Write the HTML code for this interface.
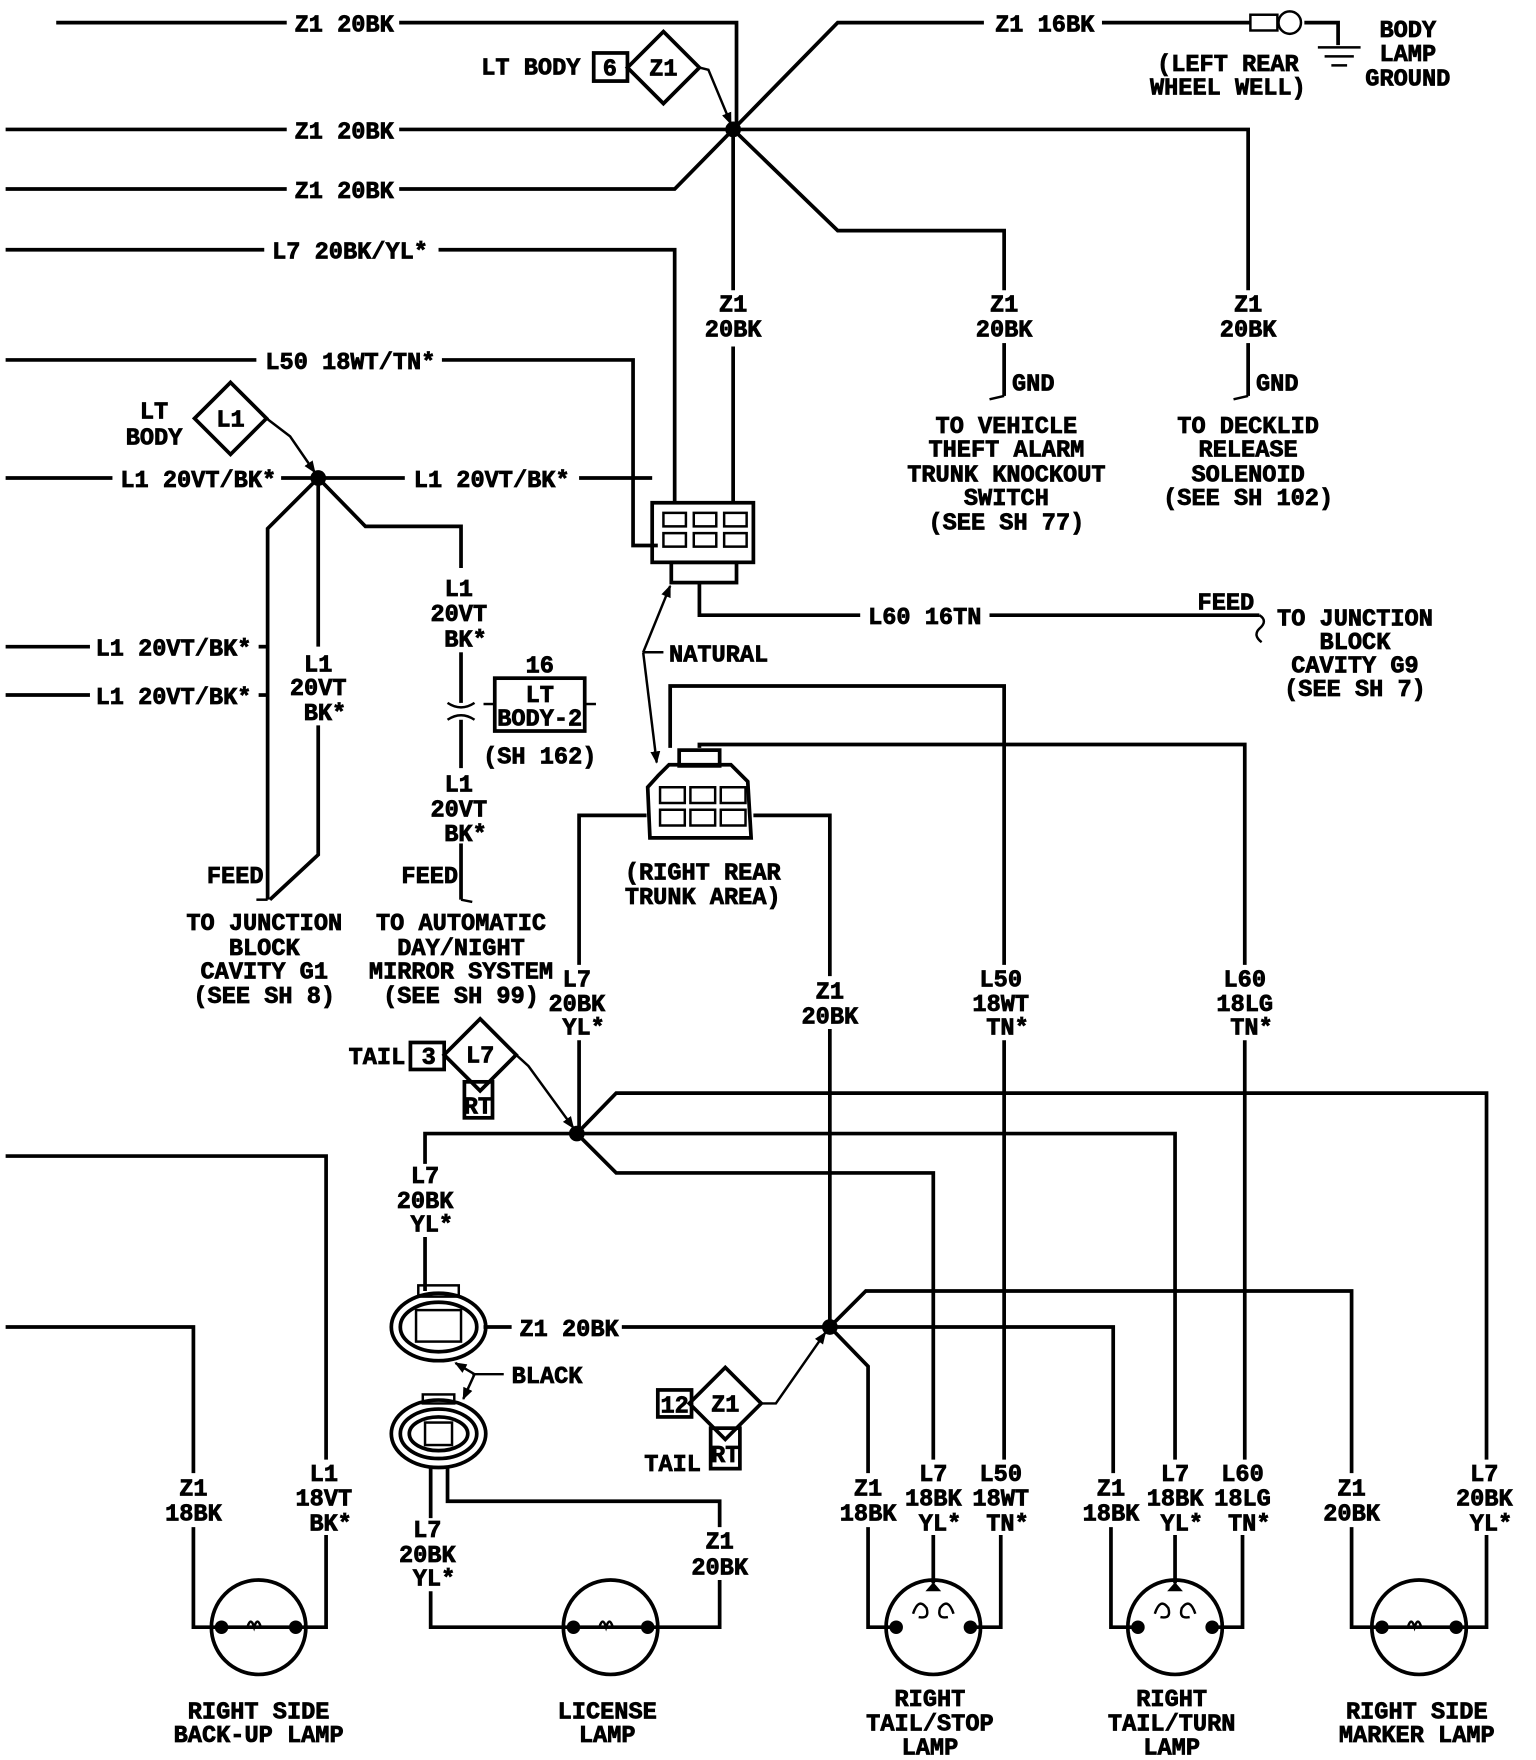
<!DOCTYPE html>
<html><head><meta charset="utf-8"><style>
html,body{margin:0;padding:0;background:#fff;}
svg{display:block;}
text{font-family:"Liberation Mono",monospace;font-weight:bold;font-size:21px;fill:#000;stroke:#000;stroke-width:0.7;}
.m{text-anchor:middle;}
.l{stroke:#000;stroke-width:3.3;fill:none;}
.t{stroke:#000;stroke-width:2.2;fill:none;}
</style></head><body>
<svg width="1536" height="1760" viewBox="0 0 1366 1565" xmlns="http://www.w3.org/2000/svg">
<defs><marker id="a" viewBox="0 0 10 10" refX="9" refY="5" markerWidth="5" markerHeight="5" orient="auto"><path d="M0,1 L10,5 L0,9 Z" fill="#000"/></marker></defs>
<rect width="1366" height="1565" fill="#fff"/>
<g class="l">
<polyline points="50,20 255,20"/><polyline points="355,20 655,20 655,115"/>
<polyline points="5,115 255,115"/><polyline points="355,115 1110,115 1110,258"/>
<polyline points="5,168 255,168"/><polyline points="355,168 600,168 652,115"/>
<polyline points="5,222 235,222"/><polyline points="390,222 600,222 600,447"/>
<polyline points="5,320 228,320"/><polyline points="393,320 563,320 563,485 585,485"/>
<polyline points="652,115 745,20 875,20"/><polyline points="980,20 1112,20"/>
<polyline points="1160,20 1190,20 1190,40"/>
<polyline points="652,115 745,205 893,205 893,258"/>
<polyline points="652,115 652,258"/><polyline points="652,308 652,447"/>
<polyline points="893,305 893,352"/><polyline points="1110,305 1110,352"/>
<polyline points="622,518 622,547 765,547"/><polyline points="880,547 1120,547"/>
<polyline points="5,425 100,425"/><polyline points="250,425 360,425"/><polyline points="515,425 580,425"/>
<polyline points="283,425 238,470 238,800"/>
<polyline points="5,575 80,575"/><polyline points="230,575 238,575"/>
<polyline points="5,618 80,618"/><polyline points="230,618 238,618"/>
<polyline points="283,425 283,575"/><polyline points="283,645 283,760 240,800"/>
<polyline points="283,425 325,468 410,468 410,505"/>
<polyline points="410,580 410,625"/><polyline points="410,640 410,683"/>
<polyline points="410,750 410,800"/>
<polyline points="596,665 596,610 893,610 893,858"/>
<polyline points="622,665 622,662 1107,662 1107,858"/>
<polyline points="575,725 515,725 515,858"/><polyline points="515,925 515,1008"/>
<polyline points="670,725 738,725 738,868"/><polyline points="738,915 738,1180"/>
<polyline points="893,925 893,1298"/><polyline points="1107,925 1107,1298"/>
<polyline points="513,1008 378,1008 378,1035"/><polyline points="378,1100 378,1148"/>
<polyline points="513,1008 548,972 1322,972 1322,1298"/>
<polyline points="513,1008 1045,1008 1045,1298"/>
<polyline points="513,1008 548,1043 830,1043 830,1298"/>
<polyline points="5,1028 290,1028 290,1298"/>
<polyline points="5,1180 172,1180 172,1310"/>
<polyline points="430,1180 455,1180"/><polyline points="553,1180 738,1180"/>
<polyline points="738,1180 770,1148 1202,1148 1202,1310"/>
<polyline points="738,1180 772,1215 772,1310"/>
<polyline points="738,1180 990,1180 990,1310"/>
<polyline points="383,1305 383,1350"/><polyline points="398,1305 398,1335 640,1335 640,1358"/>
<polyline points="172,1358 172,1447 197,1447"/><polyline points="290,1365 290,1447 263,1447"/>
<polyline points="383,1415 383,1447 510,1447"/><polyline points="640,1405 640,1447 576,1447"/>
<polyline points="772,1358 772,1447 797,1447"/><polyline points="830,1365 830,1408"/><polyline points="890,1365 890,1447 863,1447"/>
<polyline points="988,1358 988,1447 1012,1447"/><polyline points="1045,1365 1045,1408"/><polyline points="1105,1365 1105,1447 1078,1447"/>
<polyline points="1202,1358 1202,1447 1229,1447"/><polyline points="1322,1365 1322,1447 1295,1447"/>
<circle cx="230" cy="1447" r="42"/><circle cx="543" cy="1447" r="42"/><circle cx="830" cy="1447" r="42"/><circle cx="1045" cy="1447" r="42"/><circle cx="1262" cy="1447" r="42"/>
<line x1="197" y1="1447" x2="263" y2="1447"/><line x1="510" y1="1447" x2="576" y2="1447"/><line x1="1229" y1="1447" x2="1295" y2="1447"/>
<polygon points="590,28 622,60 590,92 558,60"/><rect x="528" y="47" width="30" height="25"/>
<polygon points="205,340 237,372 205,404 173,372"/>
<polygon points="427,906 459,938 427,970 395,938"/><rect x="365" y="927" width="30" height="24"/><rect x="413" y="962" width="25" height="32"/>
<polygon points="645,1216 677,1248 645,1280 613,1248"/><rect x="585" y="1236" width="30" height="24"/><rect x="632" y="1270" width="26" height="36"/>
<rect x="440" y="603" width="80" height="47"/>
<rect x="580" y="447" width="90" height="53"/><rect x="597" y="500" width="58" height="18"/>
<path d="M585,690 L595,680 L650,680 L665,695 L668,745 L578,745 L576,700 Z"/>
<rect x="604" y="667" width="36" height="14"/>
<ellipse cx="390" cy="1180" rx="42" ry="30"/><ellipse cx="390" cy="1180" rx="34" ry="22"/>
<ellipse cx="390" cy="1275" rx="42" ry="30"/><ellipse cx="390" cy="1275" rx="34" ry="22"/><ellipse cx="390" cy="1275" rx="26" ry="15"/>
</g>
<g class="t">
<polyline points="622,60 630,62 650,110" marker-end="url(#a)"/><polyline points="237,372 258,388 280,420" marker-end="url(#a)"/>
<polyline points="459,938 470,948 510,1003" marker-end="url(#a)"/><polyline points="677,1248 690,1248 734,1185" marker-end="url(#a)"/>
<polyline points="572,580 596,521" marker-end="url(#a)"/><polyline points="572,580 584,678" marker-end="url(#a)"/><line x1="572" y1="580" x2="590" y2="580"/>
<polyline points="422,1222 405,1212" marker-end="url(#a)"/><polyline points="422,1222 412,1244" marker-end="url(#a)"/><line x1="420" y1="1222" x2="448" y2="1222"/>
<polyline points="893,352 880,355"/><polyline points="1110,352 1097,355"/>
<polyline points="238,800 228,800"/><polyline points="410,800 420,802"/>
<path d="M1120,547 q8,5 0,12 q-6,6 2,12"/>
<path d="M398,625 q12,8 24,0 M398,640 q12,-8 24,0"/>
<line x1="430" y1="626" x2="440" y2="626"/><line x1="520" y1="626" x2="530" y2="626"/>
<line x1="1172" y1="42" x2="1210" y2="42"/><line x1="1178" y1="50" x2="1204" y2="50"/><line x1="1184" y1="58" x2="1198" y2="58"/>
<rect x="1112" y="13" width="24" height="14"/><circle cx="1147" cy="20" r="10"/>
<path d="M590,456h20v12h-20z M617,456h20v12h-20z M644,456h20v12h-20z M590,474h20v12h-20z M617,474h20v12h-20z M644,474h20v12h-20z"/>
<path d="M587,700h22v14h-22z M614,700h22v14h-22z M641,700h22v14h-22z M587,720h22v14h-22z M614,720h22v14h-22z M641,720h22v14h-22z"/>
<rect x="370" y="1165" width="40" height="28"/><rect x="378" y="1265" width="24" height="20"/>
<rect x="372" y="1143" width="36" height="10"/><rect x="376" y="1240" width="28" height="8"/>
<path d="M812,1435 q5,-15 12,-5 q3,10 -7,8 M848,1435 q-5,-15 -12,-5 q-3,10 7,8"/>
<path d="M1027,1435 q5,-15 12,-5 q3,10 -7,8 M1063,1435 q-5,-15 -12,-5 q-3,10 7,8"/>
<path d="M220,1447 q3,-10 6,0 q3,-10 6,0 M533,1447 q3,-10 6,0 q3,-10 6,0 M1252,1447 q3,-10 6,0 q3,-10 6,0"/>
</g>
<g fill="#000">
<circle cx="652" cy="115" r="7"/><circle cx="283" cy="425" r="7"/><circle cx="513" cy="1008" r="7"/><circle cx="738" cy="1180" r="7"/>
<circle cx="197" cy="1447" r="6"/><circle cx="263" cy="1447" r="6"/><circle cx="510" cy="1447" r="6"/><circle cx="576" cy="1447" r="6"/>
<circle cx="797" cy="1447" r="6"/><circle cx="863" cy="1447" r="6"/><circle cx="1012" cy="1447" r="6"/><circle cx="1078" cy="1447" r="6"/>
<circle cx="1229" cy="1447" r="6"/><circle cx="1295" cy="1447" r="6"/>
<path d="M823,1415h14l-7,-8z M1038,1415h14l-7,-8z"/>
</g>
<text x="262" y="28">Z1 20BK</text><text x="262" y="123">Z1 20BK</text><text x="262" y="176">Z1 20BK</text>
<text x="242" y="230">L7 20BK/YL*</text><text x="236" y="328">L50 18WT/TN*</text>
<text x="428" y="66">LT BODY</text><text x="536" y="67">6</text><text x="590" y="67" class="m">Z1</text>
<text x="885" y="28">Z1 16BK</text>
<text x="1092" y="63" class="m">(LEFT REAR</text><text x="1092" y="84" class="m">WHEEL WELL)</text>
<text x="1252" y="33" class="m">BODY</text><text x="1252" y="54" class="m">LAMP</text><text x="1252" y="76" class="m">GROUND</text>
<text x="652" y="277" class="m">Z1</text><text x="652" y="299" class="m">20BK</text>
<text x="893" y="277" class="m">Z1</text><text x="893" y="299" class="m">20BK</text>
<text x="1110" y="277" class="m">Z1</text><text x="1110" y="299" class="m">20BK</text>
<text x="900" y="347">GND</text><text x="1117" y="347">GND</text>
<text x="895" y="385" class="m">TO VEHICLE</text><text x="895" y="406" class="m">THEFT ALARM</text><text x="895" y="428" class="m">TRUNK KNOCKOUT</text><text x="895" y="449" class="m">SWITCH</text><text x="895" y="471" class="m">(SEE SH 77)</text>
<text x="1110" y="385" class="m">TO DECKLID</text><text x="1110" y="406" class="m">RELEASE</text><text x="1110" y="428" class="m">SOLENOID</text><text x="1110" y="449" class="m">(SEE SH 102)</text>
<text x="772" y="555">L60 16TN</text><text x="1065" y="542">FEED</text>
<text x="1205" y="556" class="m">TO JUNCTION</text><text x="1205" y="577" class="m">BLOCK</text><text x="1205" y="598" class="m">CAVITY G9</text><text x="1205" y="619" class="m">(SEE SH 7)</text>
<text x="595" y="588">NATURAL</text>
<text x="625" y="782" class="m">(RIGHT REAR</text><text x="625" y="804" class="m">TRUNK AREA)</text>
<text x="137" y="372" class="m">LT</text><text x="137" y="395" class="m">BODY</text><text x="205" y="379" class="m">L1</text>
<text x="107" y="433">L1 20VT/BK*</text><text x="368" y="433">L1 20VT/BK*</text>
<text x="85" y="583">L1 20VT/BK*</text><text x="85" y="626">L1 20VT/BK*</text>
<text x="283" y="597" class="m">L1</text><text x="283" y="618" class="m">20VT</text><text x="289" y="640" class="m">BK*</text>
<text x="408" y="530" class="m">L1</text><text x="408" y="552" class="m">20VT</text><text x="414" y="575" class="m">BK*</text>
<text x="408" y="704" class="m">L1</text><text x="408" y="726" class="m">20VT</text><text x="414" y="748" class="m">BK*</text>
<text x="480" y="598" class="m">16</text><text x="480" y="624" class="m">LT</text><text x="480" y="645" class="m">BODY-2</text><text x="480" y="679" class="m">(SH 162)</text>
<text x="184" y="785">FEED</text><text x="357" y="785">FEED</text>
<text x="235" y="827" class="m">TO JUNCTION</text><text x="235" y="849" class="m">BLOCK</text><text x="235" y="870" class="m">CAVITY G1</text><text x="235" y="892" class="m">(SEE SH 8)</text>
<text x="410" y="827" class="m">TO AUTOMATIC</text><text x="410" y="849" class="m">DAY/NIGHT</text><text x="410" y="870" class="m">MIRROR SYSTEM</text><text x="410" y="892" class="m">(SEE SH 99)</text>
<text x="513" y="877" class="m">L7</text><text x="513" y="899" class="m">20BK</text><text x="519" y="920" class="m">YL*</text>
<text x="738" y="888" class="m">Z1</text><text x="738" y="910" class="m">20BK</text>
<text x="890" y="877" class="m">L50</text><text x="890" y="899" class="m">18WT</text><text x="896" y="920" class="m">TN*</text>
<text x="1107" y="877" class="m">L60</text><text x="1107" y="899" class="m">18LG</text><text x="1113" y="920" class="m">TN*</text>
<text x="310" y="946">TAIL</text><text x="375" y="946">3</text><text x="427" y="945" class="m">L7</text><text x="425" y="990" class="m">RT</text>
<text x="378" y="1052" class="m">L7</text><text x="378" y="1074" class="m">20BK</text><text x="384" y="1095" class="m">YL*</text>
<text x="462" y="1188">Z1 20BK</text><text x="455" y="1230">BLACK</text>
<text x="600" y="1256" class="m">12</text><text x="645" y="1255" class="m">Z1</text><text x="645" y="1300" class="m">RT</text><text x="573" y="1308">TAIL</text>
<text x="172" y="1330" class="m">Z1</text><text x="172" y="1352" class="m">18BK</text>
<text x="288" y="1317" class="m">L1</text><text x="288" y="1339" class="m">18VT</text><text x="294" y="1361" class="m">BK*</text>
<text x="380" y="1367" class="m">L7</text><text x="380" y="1389" class="m">20BK</text><text x="386" y="1410" class="m">YL*</text>
<text x="640" y="1377" class="m">Z1</text><text x="640" y="1400" class="m">20BK</text>
<text x="772" y="1330" class="m">Z1</text><text x="772" y="1352" class="m">18BK</text>
<text x="830" y="1317" class="m">L7</text><text x="830" y="1339" class="m">18BK</text><text x="836" y="1361" class="m">YL*</text>
<text x="890" y="1317" class="m">L50</text><text x="890" y="1339" class="m">18WT</text><text x="896" y="1361" class="m">TN*</text>
<text x="988" y="1330" class="m">Z1</text><text x="988" y="1352" class="m">18BK</text>
<text x="1045" y="1317" class="m">L7</text><text x="1045" y="1339" class="m">18BK</text><text x="1051" y="1361" class="m">YL*</text>
<text x="1105" y="1317" class="m">L60</text><text x="1105" y="1339" class="m">18LG</text><text x="1111" y="1361" class="m">TN*</text>
<text x="1202" y="1330" class="m">Z1</text><text x="1202" y="1352" class="m">20BK</text>
<text x="1320" y="1317" class="m">L7</text><text x="1320" y="1339" class="m">20BK</text><text x="1326" y="1361" class="m">YL*</text>
<text x="230" y="1528" class="m">RIGHT SIDE</text><text x="230" y="1549" class="m">BACK-UP LAMP</text>
<text x="540" y="1528" class="m">LICENSE</text><text x="540" y="1549" class="m">LAMP</text>
<text x="827" y="1517" class="m">RIGHT</text><text x="827" y="1539" class="m">TAIL/STOP</text><text x="827" y="1560" class="m">LAMP</text>
<text x="1042" y="1517" class="m">RIGHT</text><text x="1042" y="1539" class="m">TAIL/TURN</text><text x="1042" y="1560" class="m">LAMP</text>
<text x="1260" y="1528" class="m">RIGHT SIDE</text><text x="1260" y="1549" class="m">MARKER LAMP</text>
</svg>
</body></html>
